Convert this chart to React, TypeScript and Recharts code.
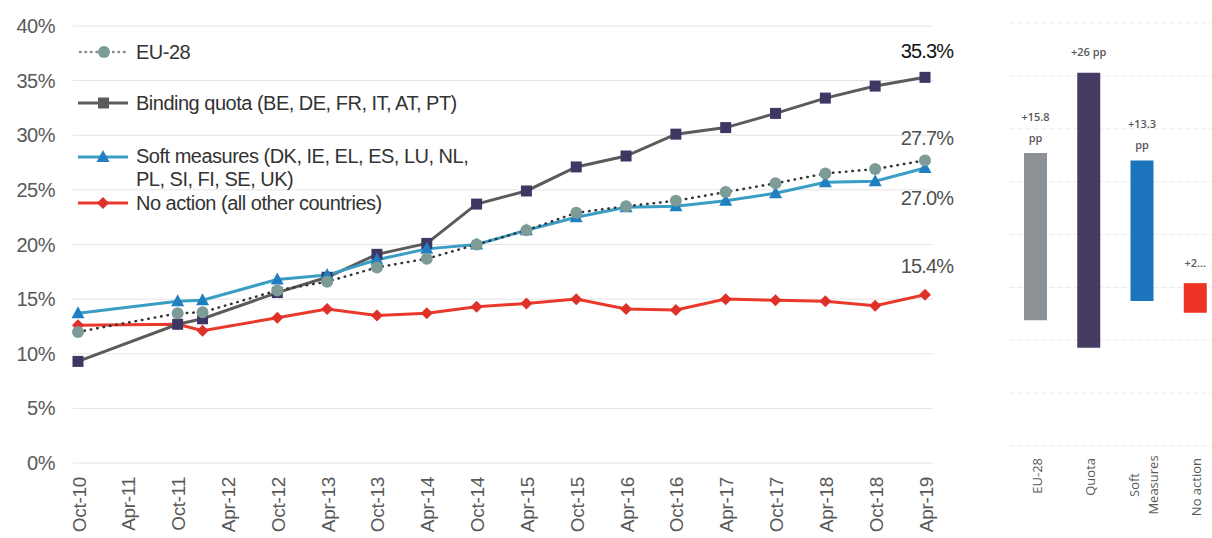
import React from "react";
import { LineChart, Line, XAxis, YAxis, CartesianGrid, Legend, BarChart, Bar, Cell } from "recharts";

// months counted from Oct-10
const pointMonths = [0, 12, 15, 24, 30, 36, 42, 48, 54, 60, 66, 72, 78, 84, 90, 96, 102];
const eu28 = [12.0, 13.7, 13.8, 15.8, 16.6, 17.9, 18.7, 20.0, 21.3, 22.9, 23.5, 24.0, 24.8, 25.6, 26.5, 26.9, 27.7];
const bindingQuota = [9.3, 12.7, 13.2, 15.6, 17.0, 19.1, 20.1, 23.7, 24.9, 27.1, 28.1, 30.1, 30.7, 32.0, 33.4, 34.5, 35.3];
const softMeasures = [13.7, 14.8, 14.9, 16.8, 17.2, 18.6, 19.6, 20.0, 21.3, 22.5, 23.4, 23.5, 24.0, 24.7, 25.7, 25.8, 27.0];
const noAction = [12.6, 12.7, 12.1, 13.3, 14.1, 13.5, 13.7, 14.3, 14.6, 15.0, 14.1, 14.0, 15.0, 14.9, 14.8, 14.4, 15.4];

const tickMonths = [0, 6, 12, 18, 24, 30, 36, 42, 48, 54, 60, 66, 72, 78, 84, 90, 96, 102];
const tickLabels = [
  "Oct-10", "Apr-11", "Oct-11", "Apr-12", "Oct-12", "Apr-13", "Oct-13", "Apr-14", "Oct-14",
  "Apr-15", "Oct-15", "Apr-16", "Oct-16", "Apr-17", "Oct-17", "Apr-18", "Oct-18", "Apr-19",
];
const yTicks = [0, 5, 10, 15, 20, 25, 30, 35, 40];

const changeGroups = ["EU-28", "Quota", "Soft Measures", "No action"];
const changeStart = [11.9, 9.3, 13.7, 12.6];
const changeEnd = [27.7, 35.3, 27.0, 15.4];
const changeLabels = [["+15.8", "pp"], ["+26 pp"], ["+13.3", "pp"], ["+2..."]];

const lineData = pointMonths.map((m, i) => ({
  m,
  eu: eu28[i],
  quota: bindingQuota[i],
  soft: softMeasures[i],
  none: noAction[i],
}));

const barData = changeGroups.map((g, i) => ({
  group: g,
  base: changeStart[i],
  delta: +(changeEnd[i] - changeStart[i]).toFixed(1),
}));

const barColors = ["#8d9296", "#463c63", "#1c75bc", "#ee3224"];

const FONT = "'Liberation Sans', Arial, sans-serif";
const last = pointMonths.length - 1;

const squareDot = (fill: string) => (p: any) => (
  <rect key={`q${p.index}`} x={p.cx - 5.5} y={p.cy - 5.5} width={11} height={11} fill={fill} />
);
const circleDot = (fill: string) => (p: any) => (
  <circle key={`c${p.index}`} cx={p.cx} cy={p.cy} r={6} fill={fill} />
);
const triDot = (fill: string) => (p: any) => (
  <path key={`t${p.index}`} d={`M${p.cx},${p.cy - 7} L${p.cx + 6.5},${p.cy + 5} L${p.cx - 6.5},${p.cy + 5} Z`} fill={fill} />
);
const diamondDot = (fill: string) => (p: any) => (
  <path key={`d${p.index}`} d={`M${p.cx},${p.cy - 6} L${p.cx + 6},${p.cy} L${p.cx},${p.cy + 6} L${p.cx - 6},${p.cy} Z`} fill={fill} />
);

const endLabel = (dy: number, color: string) => (p: any) => {
  if (p.index !== last) return null;
  return (
    <text key="end" x={p.x + 2} y={p.y + dy} textAnchor="middle" dominantBaseline="central"
      fontFamily={FONT} fontSize={20} fill={color} letterSpacing={-0.8}>
      {`${Number(p.value).toFixed(1)}%`}
    </text>
  );
};

const XTick = (p: any) => {
  const idx = tickMonths.indexOf(p.payload.value);
  return (
    <text transform={`translate(${p.x + 1},${p.y + 14}) rotate(-90)`} textAnchor="end" dominantBaseline="central"
      fontFamily={FONT} fontSize={19} fill="#595959" letterSpacing={-0.3}>
      {tickLabels[idx]}
    </text>
  );
};

const legendItems = [
  { key: "eu", name: ["EU-28"], h: 51 },
  { key: "quota", name: ["Binding quota (BE, DE, FR, IT, AT, PT)"], h: 54 },
  { key: "soft", name: ["Soft measures (DK, IE, EL, ES, LU, NL,", "PL, SI, FI, SE, UK)"], h: 46 },
  { key: "none", name: ["No action (all other countries)"], h: 24 },
];

const LegendIcon = ({ k }: { k: string }) => (
  <svg width={52} height={14} style={{ marginRight: 6, flex: "none", marginTop: 5 }}>
    {k === "eu" && (
      <>
        <line x1={2} y1={7} x2={50} y2={7} stroke="#8a8a8a" strokeWidth={2.5} strokeDasharray="0.5 5" strokeLinecap="round" />
        <circle cx={26} cy={7} r={6} fill="#7d9c97" />
      </>
    )}
    {k === "quota" && (
      <>
        <line x1={0} y1={7} x2={50} y2={7} stroke="#5b5b5b" strokeWidth={3} />
        <rect x={20} y={1.5} width={11} height={11} fill="#5b5b5b" />
      </>
    )}
    {k === "soft" && (
      <>
        <line x1={0} y1={7} x2={50} y2={7} stroke="#3a9dc4" strokeWidth={3} />
        <path d="M25,0 L31.5,12 L18.5,12 Z" fill="#1f7fc1" />
      </>
    )}
    {k === "none" && (
      <>
        <line x1={0} y1={7} x2={50} y2={7} stroke="#e8392b" strokeWidth={3} />
        <path d="M25,1 L31,7 L25,13 L19,7 Z" fill="#e0302a" />
      </>
    )}
  </svg>
);

const LegendBox = () => (
  <div style={{ fontFamily: FONT, fontSize: 20, color: "#333", letterSpacing: -0.5 }}>
    {legendItems.map((it) => (
      <div key={it.key} style={{ display: "flex", alignItems: "flex-start", height: it.h }}>
        <LegendIcon k={it.key} />
        <div style={{ lineHeight: it.key === "soft" ? "23px" : "24px", whiteSpace: "nowrap" }}>
          {it.name.map((n) => (
            <div key={n}>{n}</div>
          ))}
        </div>
      </div>
    ))}
  </div>
);

const BarTop = (p: any) => {
  const lines = changeLabels[p.index] || [];
  const n = lines.length;
  return (
    <g>
      {lines.map((t: string, j: number) => (
        <text key={j} x={p.x + p.width / 2} y={p.y - (n === 1 ? 21 : 37 - j * 21)} textAnchor="middle"
          dominantBaseline="central" fontFamily="'Open Sans', sans-serif" fontSize={11} fontWeight={600} fill="#595959">
          {t}
        </text>
      ))}
    </g>
  );
};

const BarTick = (p: any) => {
  const words = String(p.payload.value) === "Soft Measures" ? ["Soft", "Measures"] : [String(p.payload.value)];
  if (words.length === 2) {
    return (
      <g>
        {words.map((w, j) => (
          <text key={w} transform={`translate(${p.x - 8 + j * 19},485) rotate(-90)`} textAnchor="middle"
            dominantBaseline="central" fontFamily="'Open Sans', sans-serif" fontSize={13} fill="#595959">
            {w}
          </text>
        ))}
      </g>
    );
  }
  return (
    <text transform={`translate(${p.x + 1},458) rotate(-90)`} textAnchor="end" dominantBaseline="central"
      fontFamily="'Open Sans', sans-serif" fontSize={13} fill="#595959">
      {words[0]}
    </text>
  );
};

export default function App() {
  return (
    <div style={{ position: "absolute", left: 0, top: 0, width: 1212, height: 538, overflow: "hidden", background: "#fff" }}>
      <div style={{ position: "absolute", left: 0, top: 0 }}>
        <LineChart width={1000} height={538} data={lineData} margin={{ top: 26, right: 67, left: 8, bottom: 0 }}>
          <CartesianGrid vertical={false} stroke="#e4e4e4" />
          <XAxis dataKey="m" type="number" domain={[0, 102]} ticks={tickMonths} padding={{ left: 5, right: 8 }}
            axisLine={false} tickLine={false} tickSize={0} tickMargin={0} height={75} interval={0} tick={<XTick />} />
          <YAxis domain={[0, 40]} ticks={yTicks} tickFormatter={(v) => `${v}%`} axisLine={false} tickLine={false}
            tickSize={0} tickMargin={18} width={65}
            tick={{ fontFamily: FONT, fontSize: 20, fill: "#595959", letterSpacing: -0.5 }} />
          <Legend layout="vertical" align="center" verticalAlign="middle" content={<LegendBox />}
            wrapperStyle={{ top: 40, left: 78, width: 460 }} />
          <Line dataKey="none" stroke="#e8392b" strokeWidth={3} dot={diamondDot("#e0302a")} activeDot={false}
            label={endLabel(-29, "#505050")} isAnimationActive={false} />
          <Line dataKey="quota" stroke="#5b5b5b" strokeWidth={3} dot={squareDot("#3d3763")} activeDot={false}
            label={endLabel(-26, "#111")} isAnimationActive={false} />
          <Line dataKey="soft" stroke="#3a9dc4" strokeWidth={3} dot={triDot("#1f7fc1")} activeDot={false}
            label={endLabel(30, "#505050")} isAnimationActive={false} />
          <Line dataKey="eu" stroke="#333" strokeWidth={2.5} strokeDasharray="0.5 6" strokeLinecap="round"
            dot={circleDot("#7d9c97")} activeDot={false} label={endLabel(-22, "#505050")} isAnimationActive={false} />
        </LineChart>
      </div>
      <div style={{ position: "absolute", left: 1009, top: 0 }}>
        <BarChart width={213} height={538} data={barData} margin={{ top: 23, right: 0, left: 0, bottom: 0 }} barSize={23}>
          <CartesianGrid vertical={false} stroke="#ececec" strokeDasharray="6 2" />
          <XAxis dataKey="group" axisLine={false} tickLine={false} height={92} interval={0} tick={<BarTick />} />
          <YAxis hide domain={[0, 40]} ticks={yTicks} />
          <Bar dataKey="base" stackId="a" fill="transparent" isAnimationActive={false} />
          <Bar dataKey="delta" stackId="a" isAnimationActive={false} label={<BarTop />}>
            {barData.map((d, i) => (
              <Cell key={d.group} fill={barColors[i]} />
            ))}
          </Bar>
        </BarChart>
      </div>
    </div>
  );
}
